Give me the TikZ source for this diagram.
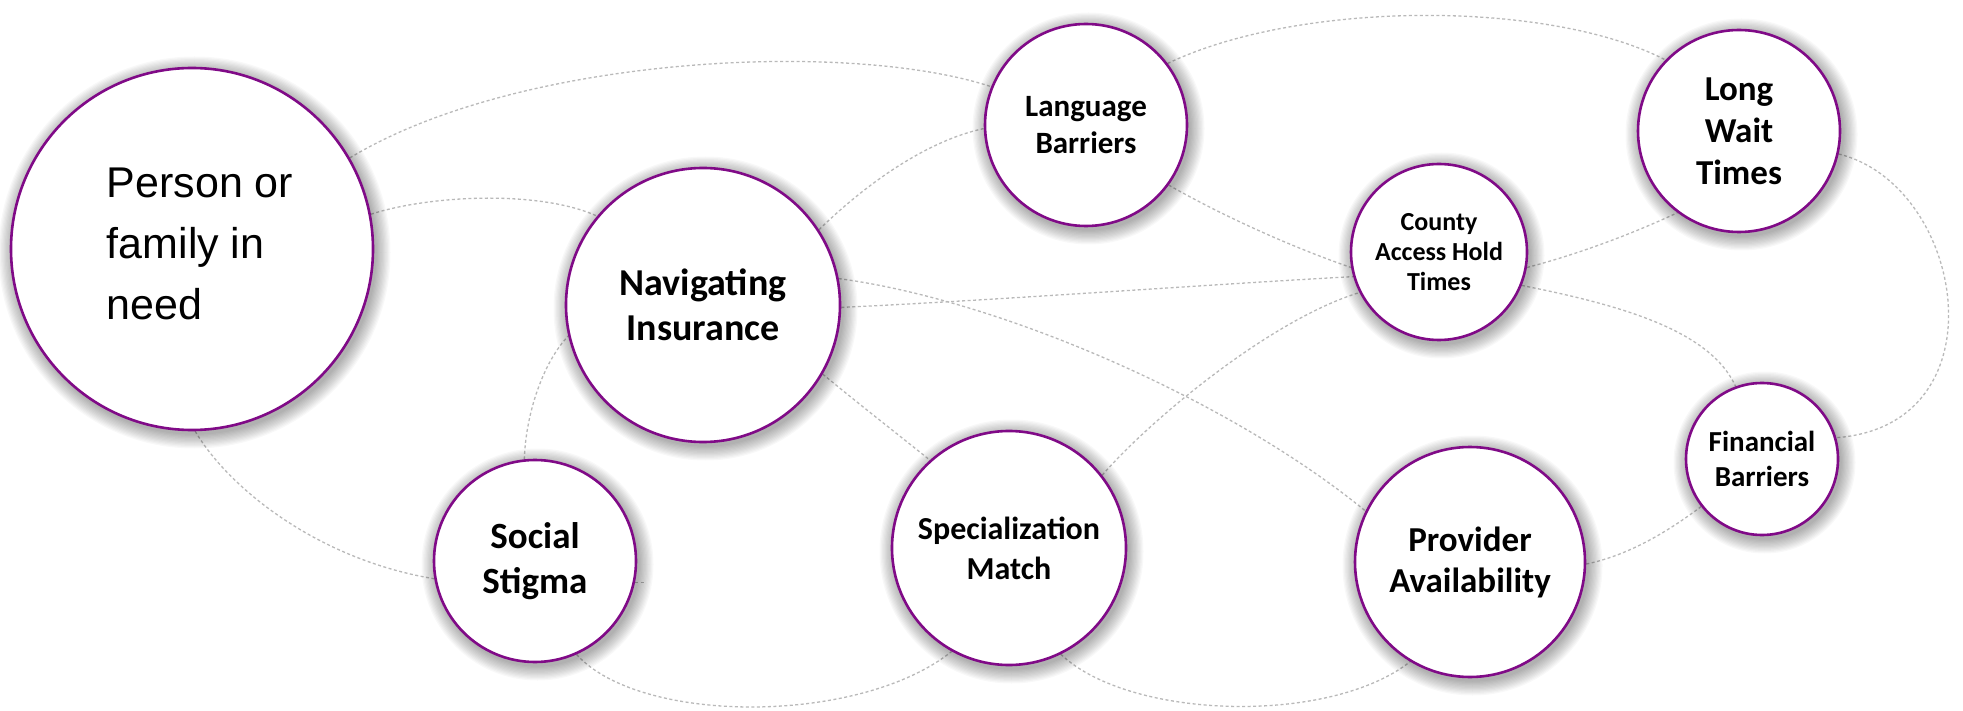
\documentclass[tikz,border=0pt]{standalone}
\usepackage{fontspec}
\setmainfont{Carlito}
\newfontfamily\arialfont{Liberation Sans}
\usetikzlibrary{backgrounds,calc}
\definecolor{ringpurple}{RGB}{128,10,135}
\definecolor{linkgray}{RGB}{185,185,185}
\tikzset{
  bubble/.style={circle, draw=ringpurple, line width=2.6pt, fill=white,
    inner sep=0pt, align=center},
  link/.style={draw=linkgray, line width=1.3pt, dash pattern=on 3pt off 2.5pt},
  plain/.style={inner sep=0pt, align=left},
  shadowfill/.style={fill=black, opacity=0.028},
}
\newcommand\bubbleshadow[2]{%
  \foreach \k in {1,...,12}{%
    \fill[shadowfill] ($(#1.center)+(2.5,3.5)$) circle[radius={#2pt+\k*1.25pt}];}}
\begin{document}
\begin{tikzpicture}[x=1pt,y=-1pt]
\useasboundingbox (0,0) rectangle (1963,711);

% nodes
\node[bubble, minimum size=362pt] (P) at (192,249) {};
\node[plain, font=\arialfont\fontsize{43}{61}\selectfont] (Ptext) at (200,244) {Person or\\family in\\need};
\node[bubble, minimum size=274pt, font=\bfseries\fontsize{38}{45}\selectfont] (N) at (703,305) {Navigating\\Insurance};
\node[bubble, minimum size=202pt, font=\bfseries\fontsize{31}{37}\selectfont] (L) at (1086,125) {Language\\Barriers};
\node[bubble, minimum size=176pt, font=\bfseries\fontsize{26}{30}\selectfont] (C) at (1439,252) {County\\Access Hold\\Times};
\node[bubble, minimum size=202pt, font=\bfseries\fontsize{35}{42}\selectfont] (W) at (1739,131) {Long\\Wait\\Times};
\node[bubble, minimum size=202pt, font=\bfseries\fontsize{37}{45}\selectfont] (S) at (535,561) {Social\\Stigma};
\node[bubble, minimum size=234pt, font=\bfseries\fontsize{32}{40}\selectfont] (M) at (1009,548) {Specialization\\Match};
\node[bubble, minimum size=230pt, font=\bfseries\fontsize{35}{41}\selectfont] (A) at (1470,562) {Provider\\Availability};
\node[bubble, minimum size=152pt, font=\bfseries\fontsize{29}{35}\selectfont] (F) at (1762,459) {Financial\\Barriers};

\coordinate (Sstub) at ($(S.-12.6)+(10,0)$);

\begin{scope}[on background layer]
\fill[white] (0,0) rectangle (1963,711);
\draw[link] (P.30) .. controls (520,55) and (850,40) .. (L.158);
\draw[link] (P.11) .. controls (430,195) and (540,190) .. (N.140.6);
\draw[link] (P.-89) .. controls (230,490) and (320,560) .. (S.-170);
\draw[link] (S.-12.6) -- (Sstub);
\draw[link] (S.96) .. controls (526,410) and (545,360) .. (N.-167);
\draw[link] (S.-66) .. controls (640,725) and (860,725) .. (M.-119);
\draw[link] (N.33.5) .. controls (870,180) and (930,140) .. (L.182);
\draw[link] (N.11.6) .. controls (1000,300) and (1230,400) .. (A.154);
\draw[link] (N.-1) .. controls (1000,300) and (1200,285) .. (C.-164);
\draw[link] (N.-30.8) .. controls (860,405) and (895,432) .. (M.132.6);
\draw[link] (L.37) .. controls (1300,0) and (1550,0) .. (W.136);
\draw[link] (L.-36.5) .. controls (1230,220) and (1300,250) .. (C.-170.6);
\draw[link] (C.-10) .. controls (1575,255) and (1630,235) .. (W.-127);
\draw[link] (C.-22) .. controls (1620,305) and (1710,330) .. (F.110);
\draw[link] (W.-13) .. controls (1965,185) and (2005,425) .. (F.16);
\draw[link] (M.38.7) .. controls (1150,420) and (1270,320) .. (C.-153.7);
\draw[link] (M.-64.7) .. controls (1130,720) and (1330,725) .. (A.-121.5);
\draw[link] (A.-1) .. controls (1630,555) and (1670,530) .. (F.-142);
\bubbleshadow{P}{181}
\bubbleshadow{N}{137}
\bubbleshadow{L}{101}
\bubbleshadow{C}{88}
\bubbleshadow{W}{101}
\bubbleshadow{S}{101}
\bubbleshadow{M}{117}
\bubbleshadow{A}{115}
\bubbleshadow{F}{76}
\end{scope}
\end{tikzpicture}
\end{document}
